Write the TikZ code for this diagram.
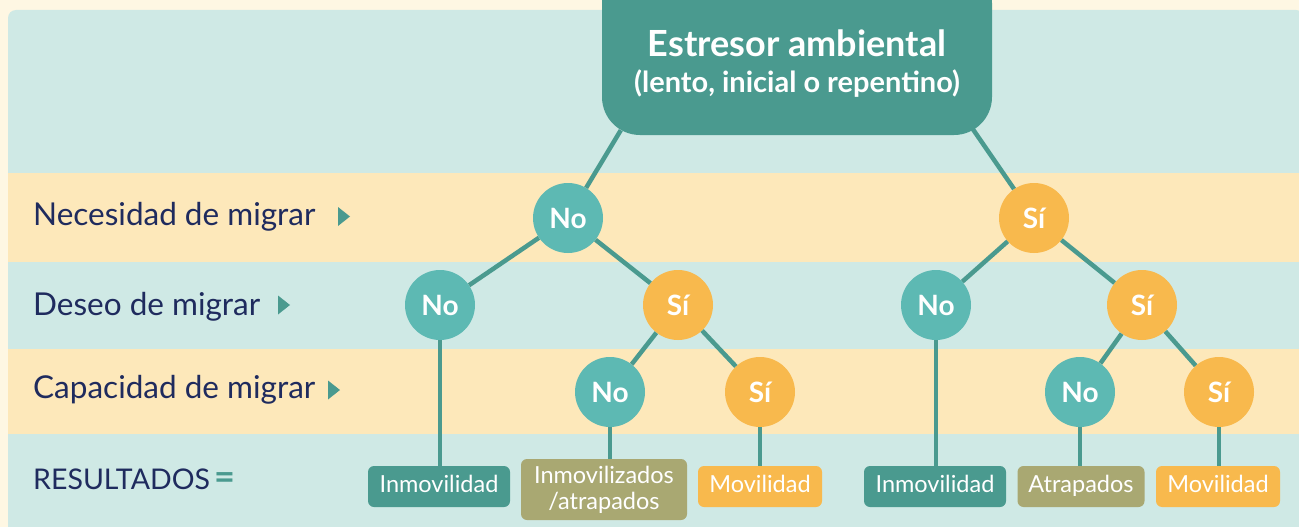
\documentclass[tikz,border=0pt]{standalone}
\usepackage{fontspec}
\setmainfont{Lato}
\usepackage{tikz}
\usetikzlibrary{positioning}

\definecolor{cream}{HTML}{FEF7E3}
\definecolor{bandteal}{HTML}{CFE9E5}
\definecolor{bandyellow}{HTML}{FDE8BA}
\definecolor{darkteal}{HTML}{4A9A8F}
\definecolor{noteal}{HTML}{5DB9B3}
\definecolor{siorange}{HTML}{F8B94D}
\definecolor{olive}{HTML}{A9A872}
\definecolor{navy}{HTML}{1F2B5E}

\begin{document}
\begin{tikzpicture}[x=1pt,y=-1pt,
  nocirc/.style={circle,fill=noteal,minimum size=70pt,inner sep=0pt,text=white,font=\bfseries\fontsize{28}{28}\selectfont},
  sicirc/.style={nocirc,fill=siorange},
  result/.style={rounded corners=6pt,minimum height=41pt,inner sep=0pt,text height=16pt,text depth=5pt,text=white,font=\fontsize{23.5}{26}\selectfont},
  rowlabel/.style={anchor=base west,inner sep=0pt,text=navy,font=\fontsize{31.5}{32}\selectfont},
  edge/.style={draw=darkteal,line width=4.5pt}]
\useasboundingbox (0,0) rectangle (1299,527);
\clip (0,0) rectangle (1299,527);
\fill[cream] (0,0) rectangle (1299,527);
% bands
\fill[bandteal,rounded corners=8pt] (8,10) rectangle (1304,540);
\fill[bandyellow] (8,173) rectangle (1299,262);
\fill[bandyellow] (8,349) rectangle (1299,434);

% row labels
\node[rowlabel] (need) at (33,225) {Necesidad de migrar};
\node[rowlabel] (wish) at (33,315) {Deseo de migrar};
\node[rowlabel] (able) at (33,398) {Capacidad de migrar};
\node[rowlabel,font=\fontsize{28.5}{30}\selectfont] (outc) at (33,489) {RESULTADOS\,\textcolor{darkteal}{\bfseries\fontsize{36}{36}\selectfont =}};
\foreach \px/\py in {344/216.5,284/305,334/390}
  \fill[darkteal] (\px-6,\py-9.5) -- (\px+6,\py) -- (\px-6,\py+9.5) -- cycle;

% root
\node[rounded corners=38pt,fill=darkteal,minimum width=390pt,minimum height=170pt] (root) at (797,50) {};
\node[align=center,text=white,font=\bfseries\fontsize{29}{36}\selectfont] (roottxt) at (797,64)
  {{\fontsize{36}{36}\selectfont Estresor ambiental}\\(lento, inicial o repentino)};

% tree
\node[nocirc] (n1) at (568,218) {No};
\node[sicirc] (s1) at (1034,218) {Sí};
\node[nocirc] (n1n) at (440,305) {No};
\node[sicirc] (n1s) at (678,305) {Sí};
\node[nocirc] (n1sn) at (610,392) {No};
\node[sicirc] (n1ss) at (760,392) {Sí};
\node[nocirc] (s1n) at (936,305) {No};
\node[sicirc] (s1s) at (1142,305) {Sí};
\node[nocirc] (s1sn) at (1080,392) {No};
\node[sicirc] (s1ss) at (1219,392) {Sí};

% results
\node[result,fill=darkteal,minimum width=142pt] (r1) at (439,486.5) {Inmovilidad};
\node[result,fill=olive,minimum width=166pt,minimum height=61pt,text height=,text depth=,align=center] (r2) at (604,489.5) {Inmovilizados\\/atrapados};
\node[result,fill=siorange,minimum width=124pt] (r3) at (760,486.5) {Movilidad};
\node[result,fill=darkteal,minimum width=142pt] (r4) at (935,486.5) {Inmovilidad};
\node[result,fill=olive,minimum width=127pt] (r5) at (1081,486.5) {Atrapados};
\node[result,fill=siorange,minimum width=124pt] (r6) at (1218,486.5) {Movilidad};

% connectors
\draw[edge] ([shift={(19,-5)}]root.south west) -- (n1);
\draw[edge] ([shift={(-20,-7)}]root.south east) -- (s1);
\draw[edge] (n1) -- (n1n);
\draw[edge] (n1) -- (n1s);
\draw[edge] (n1s) -- (n1sn);
\draw[edge] (n1s) -- (n1ss);
\draw[edge] (s1) -- (s1n);
\draw[edge] (s1) -- (s1s);
\draw[edge] (s1s) -- (s1sn);
\draw[edge] (s1s) -- (s1ss);
\draw[edge] (n1n) -- (n1n |- r1.north);
\draw[edge] (n1sn) -- (n1sn |- r2.north);
\draw[edge] (n1ss) -- (n1ss |- r3.north);
\draw[edge] (s1n) -- (s1n |- r4.north);
\draw[edge] (s1sn) -- (s1sn |- r5.north);
\draw[edge] (s1ss) -- (s1ss |- r6.north);
\end{tikzpicture}
\end{document}
